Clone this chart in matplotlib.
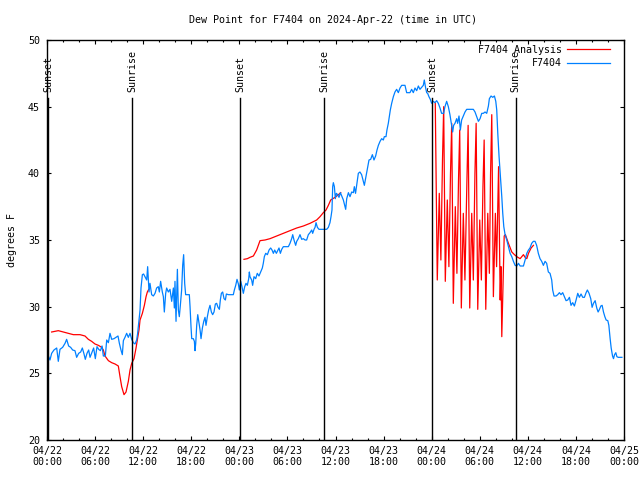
import numpy as np
import matplotlib
matplotlib.use('Agg')
import matplotlib.pyplot as plt

plt.rcParams['font.family'] = ['DejaVu Sans Mono']
plt.rcParams['font.size'] = 7.2

# hours since 2024-04-22 00:00 UTC
blue_hours = [
    0.17, 0.37, 0.58, 0.87, 1.21, 1.41, 1.62, 1.95, 2.25, 2.45, 2.70, 2.95, 3.20, 3.49, 3.70, 3.95,
    4.20, 4.41, 4.62, 4.78, 4.99, 5.20, 5.37, 5.62, 5.82, 6.03, 6.24, 6.45, 6.66, 6.87, 7.03, 7.28,
    7.45, 7.66, 7.86, 8.07, 8.36, 8.61, 8.86, 9.03, 9.23, 9.40, 9.53, 9.73, 9.94, 10.15, 10.36, 10.57,
    10.77, 10.98, 11.19, 11.31, 11.48, 11.61, 11.73, 11.90,
    12.05, 12.23, 12.44, 12.56, 12.73, 12.85, 13.06, 13.27, 13.48, 13.68, 13.89, 14.02, 14.18, 14.39,
    14.52, 14.64, 14.81, 14.93, 15.14, 15.35, 15.56, 15.77, 15.89, 15.97, 16.10, 16.27, 16.39, 16.51,
    16.64, 16.80, 16.93, 17.05, 17.18, 17.30, 17.55, 17.76, 17.85, 17.97, 18.06, 18.26, 18.39, 18.47,
    18.56, 18.68, 18.81, 18.93, 19.10, 19.22, 19.39, 19.56, 19.72, 19.84, 20.01, 20.17, 20.34, 20.51,
    20.67, 20.84, 21.01, 21.17, 21.34, 21.51, 21.63, 21.76, 21.92, 22.09, 22.26, 22.38, 22.63, 22.84,
    23.04, 23.25, 23.38, 23.55, 23.71, 23.88, 24.00, 24.17, 24.33, 24.50, 24.67, 24.83, 25.00, 25.17,
    25.25,
    25.33, 25.54, 25.66, 25.83, 26.04, 26.24, 26.45, 26.66, 26.87, 26.99, 27.12, 27.29, 27.50, 27.71,
    27.91, 28.08, 28.25, 28.41, 28.62, 28.79, 28.95, 29.12, 29.29, 29.49, 29.70, 29.91, 30.12, 30.32,
    30.53, 30.66, 30.82, 31.03, 31.16, 31.36, 31.57, 31.78, 31.99, 32.20, 32.40, 32.61, 32.82, 33.03,
    33.15, 33.32, 33.45, 33.57, 33.74, 33.94, 34.15, 34.40, 34.65, 34.90, 35.11, 35.31, 35.44, 35.56,
    35.65, 35.73, 35.86, 35.98, 36.11, 36.27, 36.44, 36.61, 36.82, 36.98, 37.15, 37.27, 37.40, 37.61,
    37.81, 38.02, 38.23, 38.35,
    38.50, 38.64, 38.85, 39.05, 39.26, 39.47, 39.60, 39.80, 40.01, 40.18, 40.39, 40.60, 40.80, 41.01,
    41.18, 41.35, 41.56, 41.76, 41.97, 42.09, 42.30, 42.42, 42.59, 42.72, 42.84, 43.01, 43.22, 43.42,
    43.63, 43.84, 44.05, 44.26, 44.46, 44.67, 44.88, 45.09, 45.29, 45.50, 45.71, 45.92, 46.13, 46.34,
    46.54, 46.75, 46.96, 47.08, 47.25, 47.38, 47.50, 47.66, 47.83, 48.00, 48.20, 48.41, 48.62, 48.83,
    49.04, 49.24, 49.49, 49.66, 49.87, 50.08, 50.28, 50.49, 50.62, 50.74, 50.91, 51.12, 51.24, 51.41,
    51.58, 51.74, 51.95,
    52.16, 52.37, 52.79, 53.20, 53.41, 53.62, 53.83, 54.04, 54.25, 54.45, 54.66, 54.87, 55.08, 55.20,
    55.41, 55.62, 55.83, 56.00, 56.12, 56.25, 56.41, 56.58, 56.75, 56.87, 57.00, 57.16, 57.37, 57.58,
    57.79, 58.00, 58.20, 58.41, 58.62, 58.83, 59.04, 59.25, 59.45, 59.66, 59.87, 60.08,
    60.27, 60.48, 60.69, 60.90, 61.10, 61.31, 61.52, 61.73, 61.94, 62.15, 62.35, 62.56, 62.77, 62.98,
    63.10, 63.27, 63.52, 63.73, 63.94, 64.14, 64.35, 64.56, 64.77, 64.98, 65.19, 65.39, 65.60, 65.81,
    66.02, 66.23, 66.43, 66.64, 66.85, 67.06, 67.27, 67.43, 67.64, 67.85, 68.02, 68.19, 68.40, 68.60,
    68.77, 68.94, 69.11, 69.27, 69.44, 69.61, 69.77, 69.98, 70.11, 70.27, 70.40, 70.57, 70.69, 70.82,
    70.98, 71.11, 71.28, 71.53, 71.74,
]
blue_dewpt = [
    26.3, 26.0, 26.5, 26.75, 26.9, 25.9, 26.8, 26.95, 27.25, 27.55, 27.05, 26.95, 26.75, 26.7, 26.2, 26.5,
    26.6, 26.9, 26.45, 26.05, 26.5, 26.75, 26.2, 26.6, 26.9, 26.1, 27.0, 26.8, 26.7, 27.05, 26.3, 26.3,
    27.5, 27.3, 28.0, 27.55, 27.6, 27.7, 27.8, 27.25, 26.75, 26.4, 27.45, 27.7, 28.0, 27.7, 28.0, 27.55,
    27.3, 27.2, 27.5, 28.0, 29.0, 29.75, 31.4, 32.4,
    32.45, 32.25, 32.0, 33.0, 31.1, 31.75, 30.9, 30.8, 31.0, 31.4, 31.5, 31.1, 31.9, 31.1,
    30.75, 29.6, 31.0, 31.4, 31.1, 31.3, 30.4, 31.4, 29.9, 31.9, 28.9, 32.8, 29.75, 29.25,
    30.1, 31.25, 33.1, 33.9, 31.75, 30.9, 30.9, 30.9, 30.0, 28.5, 27.6, 27.6, 27.4, 26.7,
    27.25, 28.6, 29.4, 28.9, 28.25, 27.6, 28.4, 28.9, 29.2, 28.6, 29.25, 29.75, 30.1, 29.6,
    29.4, 29.6, 30.2, 30.25, 29.95, 29.8, 30.5, 31.0, 31.1, 30.6, 30.5, 30.95, 30.9, 30.9,
    30.9, 30.9, 31.25, 31.6, 32.05, 31.7, 31.25, 31.9, 31.5, 31.0, 31.5, 31.75, 31.6, 32.1,
    32.6,
    32.25, 32.0, 31.6, 32.25, 32.1, 32.5, 32.3, 32.6, 32.9, 33.25, 33.75, 34.0, 33.9, 34.25,
    34.4, 34.25, 34.0, 34.25, 34.0, 34.2, 34.4, 34.0, 34.3, 34.5, 34.5, 34.5, 34.5, 34.75,
    35.1, 35.4, 35.0, 34.6, 34.9, 35.1, 35.4, 35.05, 35.1, 35.0, 35.0, 35.4, 35.55, 35.75,
    35.5, 35.8, 35.95, 36.3, 35.95, 35.8, 35.8, 35.8, 35.8, 35.8, 35.95, 36.3, 36.75, 37.25,
    39.0, 39.3, 39.0, 38.1, 38.5, 38.4, 38.2, 38.55, 38.25, 38.0, 37.6, 37.3, 38.1, 38.55,
    38.25, 38.6, 38.55, 39.0,
    38.5, 39.1, 40.0, 40.1, 39.9, 39.4, 39.1, 39.75, 40.4, 41.0, 41.05, 41.4, 41.0, 41.3,
    41.75, 42.1, 42.4, 42.6, 42.5, 42.75, 42.75, 43.25, 43.75, 44.25, 44.75, 45.25, 45.75, 46.1,
    46.3, 46.05, 46.4, 46.6, 46.6, 46.6, 46.05, 46.05, 46.05, 46.3, 46.05, 46.4, 46.2, 46.55,
    46.3, 46.45, 46.6, 47.0, 46.4, 46.05, 46.0, 45.75, 45.55, 45.25, 45.4, 45.3, 45.45, 45.25,
    44.9, 44.5, 44.5, 45.0, 45.4, 45.0, 44.4, 43.6, 43.1, 43.6, 43.75, 44.1, 43.75, 44.3,
    43.25, 44.0, 44.3,
    44.6, 44.8, 44.8, 44.8, 44.6, 44.25, 43.9, 44.1, 44.5, 44.5, 44.6, 44.5, 45.05, 45.6,
    45.8, 45.7, 45.8, 45.4, 44.75, 43.0, 41.25, 39.75, 38.25, 37.0, 36.0, 35.4, 35.0, 34.5,
    34.0, 33.75, 33.4, 33.1, 33.05, 33.25, 33.05, 33.05, 33.05, 33.5, 34.0, 34.25,
    34.4, 34.75, 34.9, 34.9, 34.6, 34.0, 33.6, 33.4, 33.1, 33.4, 33.25, 32.6, 32.5, 32.0,
    31.25, 30.8, 30.8, 30.9, 31.05, 30.9, 31.05, 30.75, 30.45, 30.5, 30.7, 30.1, 30.3, 30.05,
    30.5, 31.0, 30.7, 30.95, 30.7, 30.7, 31.05, 31.25, 31.0, 30.6, 29.95, 30.25, 30.45, 29.9,
    29.6, 29.8, 30.05, 30.1, 29.6, 29.25, 29.0, 28.95, 28.6, 27.6, 26.9, 26.3, 26.1, 26.4,
    26.55, 26.25, 26.2, 26.2, 26.2,
]

# analysis series, gaps marked with nan
red_hours = [
    0.58, 1.41, 2.04, 2.66, 3.29, 4.12, 4.74, 5.16, 5.57, 5.99, 6.41, 6.82, 7.03, 7.24, 7.66, 8.07,
    8.49, 8.90, 9.11, 9.32, 9.61, 9.86, 10.15, 10.36, 10.57, 10.86, 11.11, 11.27, 11.48, 11.61, 11.90,
    12.15, 12.36, 12.52, 12.70,
    np.nan,
    24.58, 25.00, 25.33, 25.75, 26.16, 26.58, 27.20, 27.83, 28.66, 29.49, 30.32, 31.16, 31.99, 32.82,
    33.65, 34.07, 34.48, 34.82, 35.11, 35.40, 35.94, 36.36, 36.65,
    np.nan,
    48.45, 48.70, 48.95, 49.15, 49.35, 49.50, 49.70, 49.95, 50.15, 50.35, 50.50, 50.70, 50.95, 51.15,
    51.35, 51.50, 51.70, 51.95, 52.15, 52.40, 52.55, 52.75, 53.00, 53.20, 53.40, 53.55, 53.75, 54.00,
    54.20, 54.40, 54.55, 54.75, 55.00, 55.20, 55.35, 55.50, 55.70, 55.95, 56.10, 56.25, 56.35, 56.55,
    56.65, 56.75, 57.05, 57.20, 57.58, 58.00, 58.33, 58.62, 59.04, 59.45, 59.66, 59.87, 60.08, 60.41,
    60.70,
]
red_dewpt = [
    28.1, 28.2, 28.1, 28.0, 27.9, 27.9, 27.8, 27.55, 27.4, 27.2, 27.1, 26.95, 26.75, 26.3, 25.95, 25.8,
    25.7, 25.55, 24.75, 24.0, 23.4, 23.6, 24.4, 25.25, 25.75, 26.1, 26.9, 27.5, 28.25, 29.0, 29.5,
    30.1, 30.75, 31.1, 31.3,
    np.nan,
    33.55, 33.6, 33.7, 33.8, 34.25, 34.95, 35.0, 35.1, 35.3, 35.5, 35.7, 35.9, 36.05, 36.25,
    36.5, 36.75, 37.05, 37.25, 37.6, 38.0, 38.2, 38.4, 38.55,
    np.nan,
    45.25, 32.0, 38.5, 33.5, 41.0, 45.0, 31.9, 38.0, 33.0, 40.0, 43.75, 30.25, 37.5, 32.5,
    39.5, 43.25, 29.9, 37.0, 32.0, 39.5, 43.6, 29.9, 37.0, 32.0, 40.0, 43.75, 29.8, 36.5,
    32.0, 39.0, 42.5, 29.8, 37.0, 32.5, 40.0, 44.4, 30.75, 37.0, 33.0, 37.5, 40.5, 30.5,
    33.0, 27.75, 35.3, 35.4, 34.75, 34.1, 33.9, 33.75, 33.6, 33.9, 33.7, 33.6, 34.0, 34.4,
    34.6,
]

sunset_hours = [0.15, 24.1, 48.05]
sunrise_hours = [10.6, 34.55, 58.5]

tick_hours = list(range(0, 73, 6))
tick_labels = ['04/22\n00:00', '04/22\n06:00', '04/22\n12:00', '04/22\n18:00',
               '04/23\n00:00', '04/23\n06:00', '04/23\n12:00', '04/23\n18:00',
               '04/24\n00:00', '04/24\n06:00', '04/24\n12:00', '04/24\n18:00',
               '04/25\n00:00']

fig = plt.figure(figsize=(6.4, 4.8), dpi=100)
ax = fig.add_axes([47 / 640, 40 / 480, 577 / 640, 400 / 480])

ax.plot(red_hours, red_dewpt, color='#ff0000', lw=0.9, label='F7404 Analysis')
ax.plot(blue_hours, blue_dewpt, color='#0080ff', lw=0.9, label='F7404')

for h in sunset_hours:
    ax.plot([h, h], [20, 45.65], color='black', lw=1.0)
    ax.text(h, 46.1, 'Sunset', rotation=90, ha='center', va='bottom', clip_on=False)
for h in sunrise_hours:
    ax.plot([h, h], [20, 45.65], color='black', lw=1.0)
    ax.text(h, 46.1, 'Sunrise', rotation=90, ha='center', va='bottom', clip_on=False)

ax.set_xlim(0, 72)
ax.set_ylim(20, 50)
ax.set_xticks(tick_hours)
ax.set_xticklabels(tick_labels)
ax.set_xticks(range(0, 73, 2), minor=True)
ax.set_yticks(range(20, 51, 5))
ax.tick_params(which='both', direction='in', top=True, right=True, width=0.8)
ax.tick_params(which='major', length=3.2)
ax.tick_params(which='minor', length=1.7)
ax.tick_params(axis='x', pad=4)
ax.tick_params(axis='y', pad=5)
for s in ax.spines.values():
    s.set_linewidth(1.0)

ax.set_ylabel('degrees F')
ax.yaxis.set_label_coords(-0.052, 0.5)
fig.text(333 / 640, 1 - 20 / 480, 'Dew Point for F7404 on 2024-Apr-22 (time in UTC)',
         ha='center', va='center')

ax.legend(loc='upper right', bbox_to_anchor=(1 - 14 / 577, 1 - 5 / 400), frameon=False,
          markerfirst=False, handlelength=4.3, handletextpad=0.5, labelspacing=0.35,
          borderpad=0, borderaxespad=0)

fig.savefig('out.png', dpi=100)
